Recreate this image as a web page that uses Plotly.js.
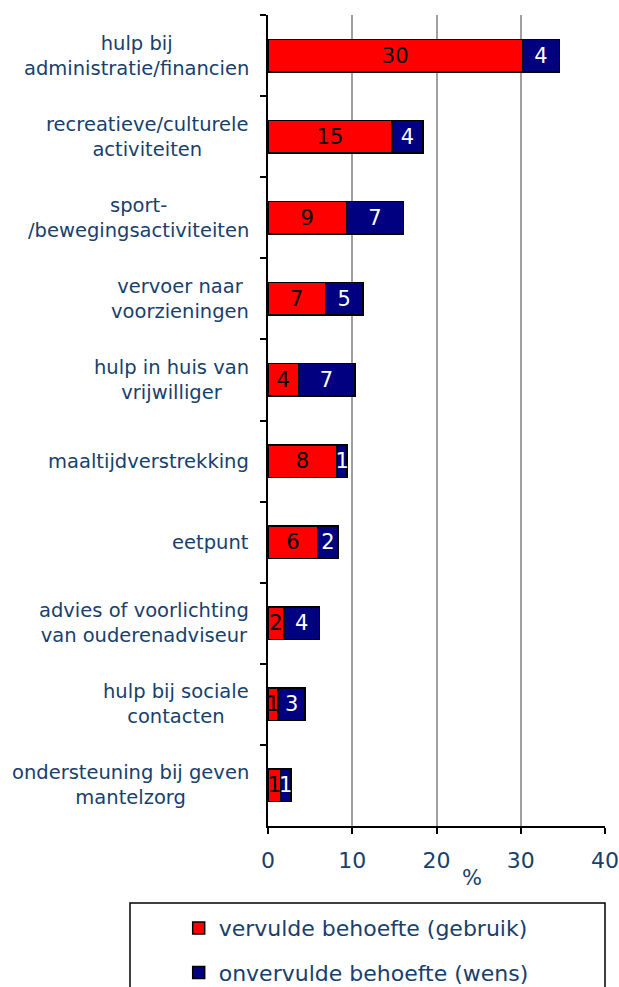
<!DOCTYPE html>
<html>
<head>
<meta charset="utf-8">
<script src="https://cdn.plot.ly/plotly-3.0.1.min.js"></script>
<style>
  html, body { margin: 0; padding: 0; background: #fff; }
  #chart { width: 619px; height: 987px; }
</style>
</head>
<body>
<div id="chart"></div>
<script>
// categories, top to bottom
var categories = [
	'hulp bij<br>administratie/financien',
	'recreatieve/culturele<br>activiteiten',
	'sport-<br>/bewegingsactiviteiten',
	'vervoer naar<br>voorzieningen',
	'hulp in huis van<br>vrijwilliger',
	'maaltijdverstrekking',
	'eetpunt',
	'advies of voorlichting<br>van ouderenadviseur',
	'hulp bij sociale<br>contacten',
	'ondersteuning bij geven<br>mantelzorg'
]
// percentages
var gebruik = [30.2, 14.7, 9.3, 6.8, 3.6, 8.2, 5.9, 1.9, 1.2, 1.5]
var wens    = [4.4, 3.7, 6.8, 4.5, 6.7, 1.2, 2.4, 4.2, 3.2, 1.2]
var gebruik_labels = ['30', '15', '9', '7', '4', '8', '6', '2', '1', '1']
var wens_labels    = ['4', '4', '7', '5', '7', '1', '2', '4', '3', '1']

var label_color = '#17406d'
var font_family = 'DejaVu Sans, Verdana, sans-serif'

var trace_gebruik = {
	type: 'bar',
	orientation: 'h',
	x: gebruik,
	y: categories,
	name: 'vervulde behoefte (gebruik)',
	legendgroup: 'a',
	text: gebruik_labels,
	textposition: 'inside',
	insidetextanchor: 'middle',
	constraintext: 'none',
	textangle: 0,
	textfont: {color: '#000000', size: 21, family: font_family},
	marker: {color: '#ff0000', line: {color: '#000000', width: 1.5}},
	hoverinfo: 'x+name'
}

var trace_wens = {
	type: 'bar',
	orientation: 'h',
	x: wens,
	y: categories,
	name: 'onvervulde behoefte (wens)',
	legendgroup: 'b',
	text: wens_labels,
	textposition: 'inside',
	insidetextanchor: 'middle',
	constraintext: 'none',
	textangle: 0,
	textfont: {color: '#ffffff', size: 21, family: font_family},
	marker: {color: '#000080', line: {color: '#000000', width: 1.5}},
	hoverinfo: 'x+name'
}

// category labels as centred annotations left of the axis
var annotations = categories.map(function (c) {
	return {
		text: c,
		xref: 'paper',
		yref: 'y',
		x: -0.05,
		y: c,
		xanchor: 'right',
		align: 'center',
		showarrow: false,
		font: {size: 19.5, color: label_color, family: font_family}
	}
})
annotations.push({
	text: '%',
	xref: 'x',
	yref: 'paper',
	x: 24.2,
	y: -0.064,
	yanchor: 'middle',
	showarrow: false,
	font: {size: 21, color: label_color, family: font_family}
})

var layout = {
	width: 619,
	height: 987,
	margin: {l: 268, r: 14, t: 15, b: 161, autoexpand: false},
	barmode: 'stack',
	bargap: 0.6,
	paper_bgcolor: '#ffffff',
	plot_bgcolor: '#ffffff',
	font: {family: font_family, color: label_color},
	xaxis: {
		range: [0, 40],
		dtick: 10,
		showgrid: true,
		gridcolor: '#a0a0a0',
		gridwidth: 2,
		zeroline: false,
		showline: true,
		linecolor: '#000000',
		linewidth: 2,
		ticks: 'outside',
		ticklen: 6,
		tickwidth: 2,
		tickcolor: '#000000',
		ticklabelstandoff: 8,
		tickfont: {size: 22, color: label_color, family: font_family}
	},
	yaxis: {
		type: 'category',
		autorange: 'reversed',
		showticklabels: false,
		showgrid: false,
		showline: true,
		linecolor: '#000000',
		linewidth: 2,
		ticks: 'outside',
		tickson: 'boundaries',
		ticklen: 6,
		tickwidth: 2,
		tickcolor: '#000000'
	},
	annotations: annotations,
	shapes: [{
		type: 'rect',
		xref: 'paper',
		yref: 'paper',
		x0: -0.4095,
		x1: 1.0,
		y0: -0.095,
		y1: -0.3,
		line: {color: '#000000', width: 1.5},
		fillcolor: 'rgba(0,0,0,0)'
	}],
	showlegend: true,
	legend: {
		orientation: 'v',
		x: -0.265,
		xanchor: 'left',
		y: -0.1,
		yanchor: 'top',
		bgcolor: 'rgba(0,0,0,0)',
		borderwidth: 0,
		tracegroupgap: 13,
		traceorder: 'grouped',
		itemwidth: 30,
		font: {size: 22, color: label_color, family: font_family}
	}
}

Plotly.newPlot('chart', [trace_gebruik, trace_wens], layout, {displayModeBar: false, staticPlot: true})
</script>
</body>
</html>
